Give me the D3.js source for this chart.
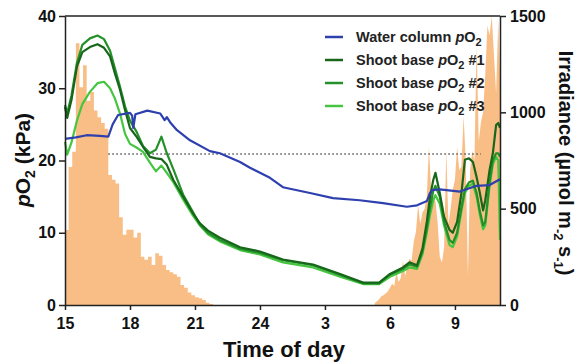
<!DOCTYPE html>
<html>
<head>
<meta charset="utf-8">
<script src="https://cdn.jsdelivr.net/npm/d3@7"></script>
<style>
  body { margin: 0; background: #fff; }
  text { font-family: "Liberation Sans", Arial, sans-serif; }
</style>
</head>
<body>
<svg id="chart"></svg>
<script>
const width = 579;
const height = 364;

// water column pO2 (kPa), hours since midnight of day 1
const blueTime = [15, 15.5, 16, 16.6, 17, 17.2, 17.45, 18, 18.1, 18.15, 18.25, 18.8, 19.4, 19.6, 19.7, 19.85, 20.17, 20.77, 21.69, 22.15, 23.08, 23.54, 24.46, 25.06, 26.31, 27.37, 28.6, 29.68, 30.78, 31.25, 31.71, 31.85, 31.95, 32.3, 33.23, 34, 34.6, 35.08];
const blueValue = [23.0, 23.2, 23.5, 23.4, 23.3, 25.0, 26.3, 26.6, 26.2, 24.5, 26.4, 26.9, 26.5, 25.6, 26.0, 25.3, 24.2, 22.8, 21.3, 21.0, 19.8, 19.0, 17.6, 16.3, 15.5, 14.8, 14.5, 14.1, 13.6, 13.8, 14.4, 15.5, 15.9, 16.0, 15.7, 16.5, 16.6, 17.4];

// shoot base pO2 (kPa)
const greenTime = [15.0, 15.1, 15.3, 15.55, 15.8, 16.15, 16.5, 16.8, 17.08, 17.3, 17.54, 17.77, 18.0, 18.3, 18.6, 18.92, 19.2, 19.45, 19.7, 20.0, 20.45, 20.9, 21.23, 21.6, 22.15, 23.08, 24.0, 25.06, 26.45, 27.7, 28.76, 29.5, 30.0, 30.6, 30.9, 31.25, 31.5, 31.7, 31.85, 32.0, 32.1, 32.3, 32.5, 32.75, 32.9, 33.1, 33.3, 33.46, 33.65, 33.83, 34.0, 34.15, 34.3, 34.4, 34.6, 34.75, 34.9, 35.0, 35.08];
const shoot1 = [27.4, 25.9, 28.4, 33.0, 35.0, 35.7, 36.1, 35.6, 34.4, 32.1, 29.8, 27.0, 24.5, 23.3, 21.9, 20.5, 20.3, 20.2, 19.4, 17.3, 15.0, 12.7, 11.3, 10.3, 9.3, 8.0, 7.4, 6.3, 5.6, 4.3, 3.1, 3.1, 4.3, 5.2, 5.9, 5.5, 7.8, 11.5, 15.0, 17.3, 18.3, 15.5, 12.2, 10.4, 10.0, 11.5, 15.5, 20.1, 20.3, 19.8, 17.7, 15.5, 13.1, 14.5, 18.7, 21.0, 24.9, 25.2, 24.5];
const shoot2 = [27.7, 26.5, 29.0, 33.5, 36.0, 36.9, 37.3, 36.8, 35.2, 32.8, 30.2, 27.5, 25.5, 24.0, 22.0, 21.0, 21.5, 23.3, 21.0, 18.8, 15.3, 12.9, 11.1, 10.0, 9.0, 7.8, 7.2, 6.2, 5.5, 4.15, 3.0, 3.0, 4.2, 5.0, 5.6, 5.3, 7.4, 10.5, 13.5, 15.8, 16.5, 15.0, 11.5, 9.0, 8.6, 10.0, 13.5, 16.0, 17.0, 17.2, 15.5, 13.0, 11.0, 11.5, 17.0, 20.0, 21.0, 21.0, 20.5];
const shoot3 = [22.6, 20.8, 22.5, 25.5, 27.8, 29.5, 30.7, 30.9, 30.0, 28.6, 26.5, 23.7, 22.3, 21.8, 21.2, 19.7, 18.5, 19.3, 18.3, 17.0, 14.6, 12.4, 11.0, 9.8, 8.8, 7.6, 7.0, 5.9, 5.2, 3.9, 2.9, 2.9, 3.9, 4.7, 5.2, 5.0, 7.0, 10.0, 12.5, 14.5, 15.2, 14.0, 11.0, 8.3, 8.0, 9.5, 13.0, 15.5, 16.5, 16.8, 15.0, 12.5, 10.5, 11.0, 16.5, 19.5, 20.5, 20.0, 9.0];

// irradiance (umol m-2 s-1): evening in 10 min bins from 15:00, morning every 0.1 h from 05:18
const eveningStart = 15, eveningStep = 1 / 6;
const irrEvening = [389, 716, 796, 1358, 1130, 1245, 1060, 1105, 1010, 975, 945, 915, 675, 650, 630, 455, 365, 390, 390, 350, 375, 250, 235, 250, 208, 268, 255, 208, 182, 170, 160, 147, 104, 90, 65, 50, 40, 35, 26, 12, 5];
const morningStart = 29.3, morningStep = 0.1;
const irrMorning = [10, 20, 30, 45, 50, 60, 70, 90, 110, 100, 170, 120, 140, 230, 150, 200, 240, 230, 330, 380, 520, 420, 480, 500, 560, 820, 600, 560, 540, 430, 250, 220, 300, 800, 420, 500, 600, 650, 820, 700, 720, 980, 750, 150, 700, 800, 750, 1350, 850, 950, 1000, 1200, 1450, 1400, 1500, 1300, 1100, 1480];

const airSat = 20.9;
const xTicks = [15, 18, 21, 24, 27, 30, 33];
const leftTicks = [0, 10, 20, 30, 40];
const rightTicks = [0, 500, 1000, 1500];

const series = [
  { name: "Water column", suffix: "", time: blueTime, values: blueValue, color: "#2e40ad" },
  { name: "Shoot base", suffix: " #1", time: greenTime, values: shoot1, color: "#17661a" },
  { name: "Shoot base", suffix: " #2", time: greenTime, values: shoot2, color: "#23902a" },
  { name: "Shoot base", suffix: " #3", time: greenTime, values: shoot3, color: "#45c540" }
];

const svg = d3.select("#chart").attr("width", width).attr("height", height);

const x = d3.scaleLinear().domain([15, 35.08]).range([65, 500]);
const yL = d3.scaleLinear().domain([0, 40]).range([305, 16]);
const yR = d3.scaleLinear().domain([0, 1500]).range([305, 16]);

// irradiance
const evening = irrEvening.map((v, i) => [eveningStart + i * eveningStep, v]);
evening.push([eveningStart + irrEvening.length * eveningStep, 0]);
const morning = irrMorning.map((v, i) => [morningStart + i * morningStep, v]);
morning.push([35.08, 1200]);

const irrColor = "#f9be85";

svg.append("path")
  .datum(evening)
  .attr("fill", irrColor)
  .attr("d", d3.area().curve(d3.curveStepAfter).x(d => x(d[0])).y0(yR(0)).y1(d => yR(d[1])));

svg.append("path")
  .datum(morning)
  .attr("fill", irrColor)
  .attr("d", d3.area().x(d => x(d[0])).y0(yR(0)).y1(d => yR(d[1])));

// air saturation line
svg.append("line")
  .attr("x1", x(17)).attr("x2", x(34.2))
  .attr("y1", yL(airSat)).attr("y2", yL(airSat))
  .attr("stroke", "#555")
  .attr("stroke-width", 1.3)
  .attr("stroke-dasharray", "1.5,2.5");

// pO2 lines, last series drawn first
const line = d3.line().x(d => x(d[0])).y(d => yL(d[1]));
[...series].reverse().forEach(s => {
  svg.append("path")
    .datum(s.time.map((t, i) => [t, s.values[i]]))
    .attr("fill", "none")
    .attr("stroke", s.color)
    .attr("stroke-width", 2.2)
    .attr("stroke-linejoin", "round")
    .attr("d", line);
});

// axes
const axisColor = "#222";
const styleAxis = (g) => {
  g.selectAll("path, line").attr("stroke", axisColor).attr("stroke-width", 1.5);
  g.selectAll("text")
    .attr("fill", "#111")
    .style("font-size", "16px")
    .style("font-weight", "bold")
    .style("font-family", "'Liberation Sans', Arial, sans-serif");
};

svg.append("g")
  .attr("transform", "translate(0,305)")
  .call(d3.axisBottom(x).tickValues(xTicks).tickSize(5).tickSizeOuter(0).tickPadding(8)
    .tickFormat(d => (d % 24 === 0 ? 24 : d % 24)))
  .call(styleAxis);

svg.append("g")
  .attr("transform", "translate(65,0)")
  .call(d3.axisLeft(yL).tickValues(leftTicks).tickSize(6).tickSizeOuter(0).tickPadding(3))
  .call(styleAxis);

svg.append("g")
  .attr("transform", "translate(500,0)")
  .call(d3.axisRight(yR).tickValues(rightTicks).tickFormat(d3.format("d"))
    .tickSize(6).tickSizeOuter(0).tickPadding(4))
  .call(styleAxis);

// top frame
svg.append("line")
  .attr("x1", 65).attr("x2", 500).attr("y1", 16).attr("y2", 16)
  .attr("stroke", axisColor).attr("stroke-width", 1.5);

// titles
svg.append("text")
  .attr("x", 284).attr("y", 357)
  .attr("text-anchor", "middle")
  .style("font-size", "22px").style("font-weight", "bold").attr("fill", "#111")
  .text("Time of day");

const leftTitle = svg.append("text")
  .attr("transform", "translate(30,160) rotate(-90)")
  .attr("text-anchor", "middle")
  .style("font-size", "21px").style("font-weight", "bold").attr("fill", "#111");
leftTitle.append("tspan").style("font-style", "italic").text("p");
leftTitle.append("tspan").text("O");
leftTitle.append("tspan").attr("dy", 5).style("font-size", "14px").text("2");
leftTitle.append("tspan").attr("dy", -5).text(" (kPa)");

// exponents sit on the left of the column, as in the source figure
const rightTitle = svg.append("text")
  .attr("transform", "translate(559,163) rotate(90)")
  .attr("text-anchor", "middle")
  .style("font-size", "20px").style("font-weight", "bold").attr("fill", "#111");
rightTitle.append("tspan").text("Irradiance (\u00b5mol m");
rightTitle.append("tspan").attr("dy", 5).style("font-size", "13px").text("-2");
rightTitle.append("tspan").attr("dy", -5).text(" s");
rightTitle.append("tspan").attr("dy", 5).style("font-size", "13px").text("-1");
rightTitle.append("tspan").attr("dy", -5).text(")");

// legend
const legend = svg.selectAll(".legend-item")
  .data(series)
  .enter()
  .append("g")
  .attr("class", "legend-item")
  .attr("transform", (d, i) => `translate(325,${37 + i * 23})`);

legend.append("line")
  .attr("x1", 0).attr("x2", 18)
  .attr("stroke", d => d.color)
  .attr("stroke-width", 2.5);

const legendText = legend.append("text")
  .attr("x", 31).attr("dy", "0.36em")
  .style("font-size", "14.5px").style("font-weight", "bold").attr("fill", "#222");
legendText.append("tspan").text(d => d.name + " ");
legendText.append("tspan").style("font-style", "italic").text("p");
legendText.append("tspan").text("O");
legendText.append("tspan").attr("dy", 4).style("font-size", "11px").text("2");
legendText.append("tspan").attr("dy", -4).text(d => d.suffix);
</script>
</body>
</html>
